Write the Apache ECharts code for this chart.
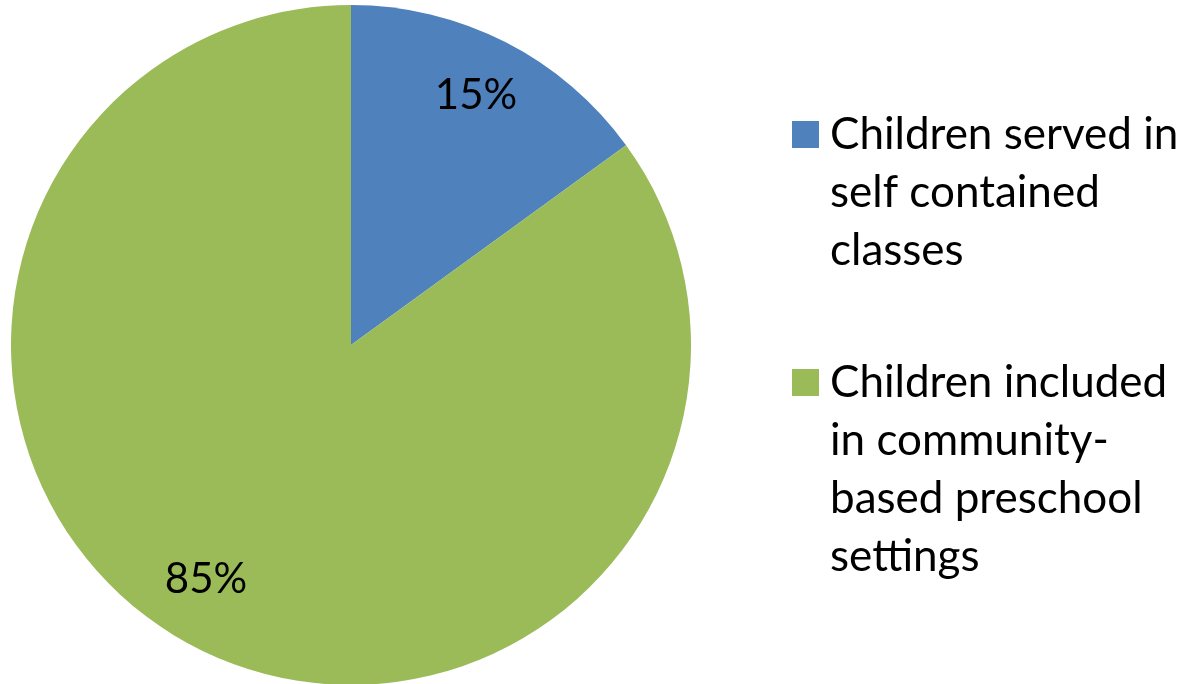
<!DOCTYPE html>
<html>
<head>
<meta charset="utf-8">
<script src="https://cdn.jsdelivr.net/npm/echarts@6/dist/echarts.min.js"></script>
<style>html,body{margin:0;padding:0;background:#fff}#c{width:1187px;height:684px}</style>
</head>
<body>
<div id="c"></div>
<script>
const categories = [
  "Children served in\nself contained\nclasses",
  "Children included\nin community-\nbased preschool\nsettings"
];
const values = [15, 85];
const colors = ["#4F81BD", "#9BBB59"];
const labelTexts = ["15%", "85%"];

const FONT = "Lato";
const chart = echarts.init(document.getElementById('c'), null, {renderer: 'canvas'});
const pieData = categories.map((n, i) => ({name: n, value: values[i], itemStyle: {color: colors[i]}}));
const labelOffsets = [[-3, 2], [-17, -17]];
const labelData = categories.map((n, i) => ({name: n, value: values[i], label: {offset: labelOffsets[i]}}));
chart.setOption({
  animation: false,
  legend: {
    orient: 'vertical',
    left: 787,
    top: -15.5,
    itemWidth: 27,
    itemHeight: 27,
    itemGap: -100,
    icon: 'rect',
    selectedMode: false,
    data: categories,
    // pad with blank lines above so the first text line sits level with the icon
    formatter: name => '\n'.repeat(name.split('\n').length - 1) + name,
    textStyle: {fontFamily: FONT, fontSize: 44, lineHeight: 58, color: '#000', padding: [0, 0, 0, 6]}
  },
  series: [
    {
      type: 'pie',
      center: [351, 345],
      radius: [0, 340],
      startAngle: 90,
      clockwise: true,
      silent: true,
      label: {show: false},
      labelLine: {show: false},
      itemStyle: {borderWidth: 0},
      data: pieData
    },
    {
      type: 'pie',
      center: [351, 345],
      radius: [218, 340],
      startAngle: 90,
      clockwise: true,
      silent: true,
      legendHoverLink: false,
      itemStyle: {color: 'rgba(0,0,0,0)', borderWidth: 0},
      label: {
        show: true,
        position: 'inside',
        fontFamily: FONT,
        fontSize: 42,
        color: '#000',
        formatter: p => labelTexts[p.dataIndex]
      },
      labelLine: {show: false},
      data: labelData
    }
  ]
});
</script>
</body>
</html>
